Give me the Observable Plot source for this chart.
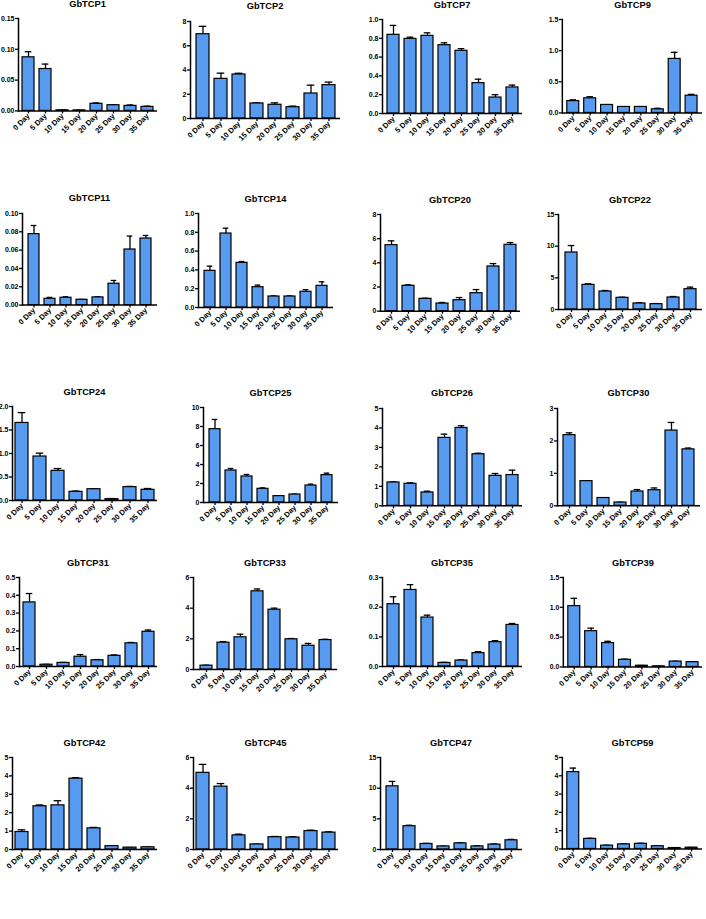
<!DOCTYPE html>
<html><head><meta charset="utf-8">
<script src="https://cdn.jsdelivr.net/npm/d3@7"></script>
<script src="https://cdn.jsdelivr.net/npm/@observablehq/plot@0.6"></script>
<style>
body{margin:0;background:#fff;}
#root{position:relative;width:706px;height:919px;overflow:hidden;font-family:"Liberation Sans",Arial,sans-serif;background:#fff;}
.title{position:absolute;font-weight:bold;font-size:9.3px;white-space:nowrap;color:#000;transform:translate(-50%,-50%);line-height:1;}
.panel{position:absolute;}
</style></head><body><div id="root"></div>
<script>
// ---- data ----
const days = ["0 Day","5 Day","10 Day","15 Day","20 Day","25 Day","30 Day","35 Day"];
const genes = ["GbTCP1","GbTCP2","GbTCP7","GbTCP9","GbTCP11","GbTCP14","GbTCP20","GbTCP22","GbTCP24","GbTCP25","GbTCP26","GbTCP30","GbTCP31","GbTCP33","GbTCP35","GbTCP39","GbTCP42","GbTCP45","GbTCP47","GbTCP59"];

const mean_GbTCP1  = [0.087, 0.068, 0.001, 0.0008, 0.0115, 0.0092, 0.0081, 0.0065];
const err_GbTCP1   = [0.009, 0.008, 0.0003, 0.0002, 0.0015, 0.0006, 0.0015, 0.0011];
const mean_GbTCP2  = [6.95, 3.27, 3.63, 1.24, 1.13, 0.93, 2.06, 2.75];
const err_GbTCP2   = [0.65, 0.47, 0.10, 0.05, 0.16, 0.09, 0.69, 0.25];
const mean_GbTCP7  = [0.837, 0.794, 0.826, 0.727, 0.667, 0.323, 0.17, 0.277];
const err_GbTCP7   = [0.10, 0.018, 0.032, 0.025, 0.023, 0.042, 0.03, 0.025];
const mean_GbTCP9  = [0.19, 0.235, 0.128, 0.096, 0.096, 0.058, 0.867, 0.277];
const err_GbTCP9   = [0.02, 0.025, 0.006, 0.005, 0.004, 0.016, 0.106, 0.021];
const mean_GbTCP11 = [0.0775, 0.0069, 0.0080, 0.0058, 0.0084, 0.0233, 0.0607, 0.0727];
const err_GbTCP11  = [0.0094, 0.0015, 0.0011, 0.0004, 0.0007, 0.0036, 0.0146, 0.0033];
const mean_GbTCP14 = [0.39, 0.787, 0.475, 0.216, 0.117, 0.117, 0.167, 0.23];
const err_GbTCP14  = [0.05, 0.057, 0.014, 0.022, 0.006, 0.006, 0.023, 0.043];
const mean_GbTCP20 = [5.46, 2.10, 1.02, 0.63, 0.91, 1.49, 3.70, 5.49];
const err_GbTCP20  = [0.36, 0.08, 0.05, 0.09, 0.22, 0.30, 0.24, 0.19];
const mean_GbTCP22 = [9.0, 3.89, 2.84, 1.84, 0.95, 0.84, 1.89, 3.21];
const err_GbTCP22  = [1.1, 0.16, 0.16, 0.1, 0.1, 0.1, 0.16, 0.32];
const mean_GbTCP24 = [1.65, 0.936, 0.631, 0.184, 0.24, 0.028, 0.284, 0.227];
const err_GbTCP24  = [0.22, 0.071, 0.049, 0.016, 0.007, 0.014, 0.016, 0.028];
const mean_GbTCP25 = [7.72, 3.37, 2.74, 1.44, 0.67, 0.84, 1.79, 2.88];
const err_GbTCP25  = [1.02, 0.21, 0.21, 0.10, 0.04, 0.04, 0.14, 0.21];
const mean_GbTCP26 = [1.20, 1.13, 0.685, 3.49, 4.00, 2.65, 1.54, 1.58];
const err_GbTCP26  = [0.03, 0.05, 0.065, 0.19, 0.11, 0.05, 0.12, 0.25];
const mean_GbTCP30 = [2.18, 0.76, 0.24, 0.10, 0.44, 0.48, 2.32, 1.74];
const err_GbTCP30  = [0.07, 0.01, 0.01, 0.01, 0.06, 0.07, 0.25, 0.04];
const mean_GbTCP31 = [0.36, 0.01, 0.02, 0.055, 0.035, 0.06, 0.13, 0.195];
const err_GbTCP31  = [0.05, 0.002, 0.003, 0.012, 0.004, 0.005, 0.005, 0.01];
const mean_GbTCP33 = [0.25, 1.75, 2.10, 5.10, 3.90, 1.97, 1.55, 1.92];
const err_GbTCP33  = [0.03, 0.07, 0.20, 0.15, 0.10, 0.05, 0.15, 0.05];
const mean_GbTCP35 = [0.21, 0.258, 0.165, 0.012, 0.02, 0.045, 0.082, 0.14];
const err_GbTCP35  = [0.025, 0.018, 0.008, 0.002, 0.002, 0.005, 0.005, 0.005];
const mean_GbTCP39 = [1.02, 0.60, 0.40, 0.12, 0.02, 0.01, 0.09, 0.08];
const err_GbTCP39  = [0.13, 0.05, 0.03, 0.01, 0.005, 0.003, 0.005, 0.005];
const mean_GbTCP42 = [0.95, 2.35, 2.40, 3.85, 1.15, 0.18, 0.10, 0.12];
const err_GbTCP42  = [0.12, 0.07, 0.25, 0.05, 0.05, 0.02, 0.01, 0.01];
const mean_GbTCP45 = [5.0, 4.1, 0.92, 0.33, 0.80, 0.78, 1.20, 1.10];
const err_GbTCP45  = [0.55, 0.20, 0.08, 0.02, 0.05, 0.05, 0.06, 0.05];
const mean_GbTCP47 = [10.3, 3.8, 0.9, 0.5, 1.0, 0.5, 0.8, 1.5];
const err_GbTCP47  = [0.8, 0.15, 0.1, 0.05, 0.1, 0.1, 0.1, 0.15];
const mean_GbTCP59 = [4.2, 0.55, 0.18, 0.25, 0.28, 0.15, 0.05, 0.07];
const err_GbTCP59  = [0.22, 0.03, 0.02, 0.03, 0.03, 0.02, 0.01, 0.01];

const means = [mean_GbTCP1, mean_GbTCP2, mean_GbTCP7, mean_GbTCP9, mean_GbTCP11, mean_GbTCP14, mean_GbTCP20, mean_GbTCP22, mean_GbTCP24, mean_GbTCP25, mean_GbTCP26, mean_GbTCP30, mean_GbTCP31, mean_GbTCP33, mean_GbTCP35, mean_GbTCP39, mean_GbTCP42, mean_GbTCP45, mean_GbTCP47, mean_GbTCP59];
const errs = [err_GbTCP1, err_GbTCP2, err_GbTCP7, err_GbTCP9, err_GbTCP11, err_GbTCP14, err_GbTCP20, err_GbTCP22, err_GbTCP24, err_GbTCP25, err_GbTCP26, err_GbTCP30, err_GbTCP31, err_GbTCP33, err_GbTCP35, err_GbTCP39, err_GbTCP42, err_GbTCP45, err_GbTCP47, err_GbTCP59];

// y axis: top tick value and tick step for each panel
const yMax  = [0.15, 8, 1.0, 1.5, 0.10, 1.0, 8, 15, 2.0, 10, 5, 3, 0.5, 6, 0.3, 1.5, 5, 6, 15, 5];
const yStep = [0.05, 2, 0.2, 0.5, 0.02, 0.2, 2, 5, 0.5, 2, 1, 1, 0.1, 2, 0.1, 0.5, 1, 2, 5, 1];

// ---- layout: plot frame [left, right, top, bottom] in page pixels ----
const frames = [
  [18,157,18.3,110.7],[190,340,20.7,117.7],[382,522,19.3,113.3],[562,703,19.3,113.3],
  [22,157,212.7,304.3],[198,333,213.3,307.3],[380,520,214.3,311],[558,702,214,309],
  [12,157,406,500],[203,338,407.3,502.3],[382,522,407.7,505],[557,700,407.7,505],
  [19,157,577,666],[193,337,577,669],[382,522,577,666],[563,703,577,667],
  [12,157,757,849],[193,338,757,849],[380,522,757,849],[562,703,757,849]
];

const root = document.getElementById("root");
const ml = 30, mr = 4, mt = 4, mb = 42;
const FONT = "Liberation Sans, Arial, Helvetica, sans-serif";
const BAR = "#579bf0";

genes.forEach((g, i) => {
  const [L, R, T, B] = frames[i];
  const data = days.map((d, j) => ({day: d, v: means[i][j], e: errs[i][j]}));
  const step = yStep[i];
  const dec = step >= 1 ? 0 : Math.max(0, -Math.floor(Math.log10(step) + 1e-9));
  const ticks = d3.range(0, yMax[i] + step / 2, step);
  const W = R - L + ml + mr, H = B - T + mt + mb;
  const chart = Plot.plot({
    width: W, height: H,
    marginLeft: ml, marginRight: mr, marginTop: mt, marginBottom: mb,
    style: {fontFamily: FONT, fontSize: "7px", fontWeight: "bold", color: "#000", background: "transparent", overflow: "visible"},
    x: {domain: days, paddingInner: 0.3, paddingOuter: 0.17, axis: null},
    y: {domain: [0, yMax[i]], axis: null},
    marks: [
      Plot.ruleX(data, {x: "day", y1: "v", y2: d => d.v + d.e, stroke: "#000", strokeWidth: 1.3}),
      Plot.tickY(data, {x: "day", y: d => d.v + d.e, stroke: "#000", strokeWidth: 1.3, insetLeft: 2.7, insetRight: 2.7}),
      Plot.barY(data, {x: "day", y: "v", fill: BAR, stroke: "#000", strokeWidth: 1.2}),
      Plot.axisY({ticks: ticks, tickFormat: d => d.toFixed(dec), tickSize: 3, tickPadding: 1, strokeWidth: 1.3, label: null, fontWeight: "bold", fontSize: 7}),
      Plot.axisX({tickRotate: -45, tickSize: 3, tickPadding: 1, strokeWidth: 1.3, label: null, fontWeight: "bold", fontSize: 7.5}),
      Plot.ruleY([0], {stroke: "#000", strokeWidth: 1.5}),
      Plot.frame({anchor: "left", stroke: "#000", strokeWidth: 1.5})
    ]
  });
  const wrap = document.createElement("div");
  wrap.className = "panel";
  wrap.style.left = (L - ml) + "px";
  wrap.style.top = (T - mt) + "px";
  wrap.appendChild(chart);
  root.appendChild(wrap);

  const t = document.createElement("div");
  t.className = "title";
  t.textContent = g;
  t.style.left = ((L + R) / 2) + "px";
  t.style.top = (T - 13.5) + "px";
  root.appendChild(t);
});
</script>
</body></html>
